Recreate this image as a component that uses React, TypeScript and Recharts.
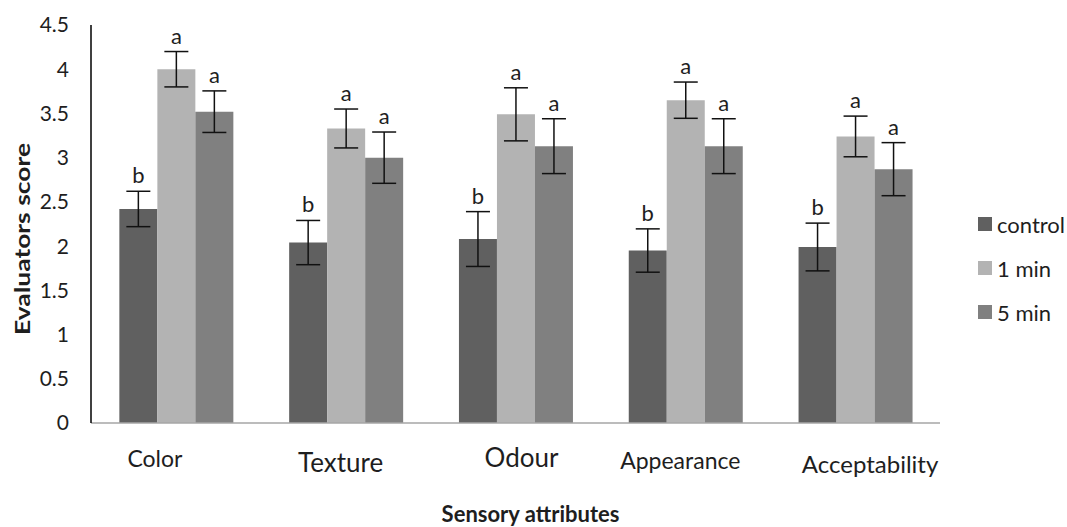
import { BarChart, Bar, XAxis, YAxis, ErrorBar, LabelList, Legend } from 'recharts'

const categories = ['Color', 'Texture', 'Odour', 'Appearance', 'Acceptability']
const seriesNames = ['control', '1 min', '5 min']
const controlScores = [2.42, 2.04, 2.08, 1.95, 1.99]
const oneMinScores = [4.0, 3.33, 3.49, 3.65, 3.24]
const fiveMinScores = [3.52, 3.0, 3.13, 3.13, 2.87]
const controlErr = [0.2, 0.25, 0.31, 0.245, 0.27]
const oneMinErr = [0.2, 0.22, 0.3, 0.205, 0.23]
const fiveMinErr = [0.235, 0.29, 0.31, 0.31, 0.3]
const controlLetters = ['b', 'b', 'b', 'b', 'b']
const oneMinLetters = ['a', 'a', 'a', 'a', 'a']
const fiveMinLetters = ['a', 'a', 'a', 'a', 'a']
const yTicks = [0, 0.5, 1, 1.5, 2, 2.5, 3, 3.5, 4, 4.5]

const chartData = categories.map((name, i) => ({
  name,
  control: controlScores[i],
  controlErr: controlErr[i],
  controlLetter: controlLetters[i],
  oneMin: oneMinScores[i],
  oneMinErr: oneMinErr[i],
  oneMinLetter: oneMinLetters[i],
  fiveMin: fiveMinScores[i],
  fiveMinErr: fiveMinErr[i],
  fiveMinLetter: fiveMinLetters[i],
}))

const FONT = 'Lato, "Open Sans", sans-serif'
const TEXT = '#1e1e1e'

// category labels in the original were nudged by hand, keep that look
const tickLook: Record<string, { dx: number; dy: number; size: number }> = {
  Color: { dx: -21, dy: 36, size: 23 },
  Texture: { dx: -5, dy: 41, size: 26 },
  Odour: { dx: 6, dy: 36, size: 26 },
  Appearance: { dx: -5, dy: 38, size: 23 },
  Acceptability: { dx: 15, dy: 42, size: 24 },
}

const CategoryTick = ({ x, y, payload }: any) => {
  const look = tickLook[payload.value] || { dx: 0, dy: 38, size: 23 }
  return (
    <text x={x + look.dx} y={y + look.dy} textAnchor="middle"
      fontFamily={FONT} fontSize={look.size} fill={TEXT}>
      {payload.value}
    </text>
  )
}

// significance letter sits just above the error bar cap
const letterLabel = (scoreKey: string, errKey: string) => (props: any) => {
  const { x, y, width, height, value, index } = props
  const d: any = chartData[index]
  const pxPerUnit = height / d[scoreKey]
  const top = y - d[errKey] * pxPerUnit
  return (
    <text x={x + width / 2} y={top - 8} textAnchor="middle"
      fontFamily={FONT} fontSize={22} fill={TEXT}>
      {value}
    </text>
  )
}

const LegendBox = ({ payload }: any) => {
  const items = [...(payload || [])].sort(
    (a: any, b: any) => seriesNames.indexOf(a.value) - seriesNames.indexOf(b.value))
  return (
    <div style={{ display: 'flex', flexDirection: 'column', fontFamily: FONT }}>
      {items.map((p: any) => (
        <div key={p.value} style={{ display: 'flex', alignItems: 'center', height: 44 }}>
          <span style={{ width: 14, height: 14, background: p.color, marginRight: 5 }} />
          <span style={{ fontSize: 22, color: TEXT }}>{p.value}</span>
        </div>
      ))}
    </div>
  )
}

export default function App() {
  return (
    <div style={{ width: 1067, height: 527, background: '#fff' }}>
      <style>{'body{margin:0}'}</style>
      <BarChart width={1067} height={527} data={chartData}
        margin={{ top: 25, right: 38, bottom: 44, left: 0 }}
        barCategoryGap="16.7%" barGap={0}>
        <XAxis dataKey="name" height={60} tickLine={false}
          axisLine={{ stroke: '#a6a6a6', strokeWidth: 1.5 }}
          tick={<CategoryTick />} interval={0}
          label={{
            content: ({ viewBox }: any) => (
              <text x={viewBox.x + viewBox.width / 2 + 15} y={522} textAnchor="middle"
                fontFamily={FONT} fontWeight="bold" fontSize={22} fill={TEXT}>
                Sensory attributes
              </text>
            ),
          }} />
        <YAxis width={91} domain={[0, 4.5]} ticks={yTicks} tickLine={false}
          tickMargin={16} axisLine={{ stroke: '#000', strokeWidth: 1.5 }}
          tick={{ fontFamily: FONT, fontSize: 21, fill: TEXT }}
          label={{
            content: ({ viewBox }: any) => {
              const cy = viewBox.y + viewBox.height / 2 + 15
              return (
                <text x={21} y={cy} textAnchor="middle" transform={`rotate(-90, 21, ${cy})`}
                  dominantBaseline="central" textLength={192} lengthAdjust="spacingAndGlyphs"
                  fontFamily={FONT} fontWeight="bold" fontSize={21} fill={TEXT}>
                  Evaluators score
                </text>
              )
            },
          }} />
        <Legend layout="horizontal" verticalAlign="middle" align="right"
          content={<LegendBox />}
          wrapperStyle={{ left: 978, top: 202, right: 'auto', width: 89 }} />
        <Bar dataKey="control" name="control" fill="#606060" isAnimationActive={false}>
          <ErrorBar dataKey="controlErr" width={12} stroke="#111" strokeWidth={1.5} direction="y" />
          <LabelList dataKey="controlLetter" content={letterLabel('control', 'controlErr')} />
        </Bar>
        <Bar dataKey="oneMin" name="1 min" fill="#b3b3b3" isAnimationActive={false}>
          <ErrorBar dataKey="oneMinErr" width={12} stroke="#111" strokeWidth={1.5} direction="y" />
          <LabelList dataKey="oneMinLetter" content={letterLabel('oneMin', 'oneMinErr')} />
        </Bar>
        <Bar dataKey="fiveMin" name="5 min" fill="#808080" isAnimationActive={false}>
          <ErrorBar dataKey="fiveMinErr" width={12} stroke="#111" strokeWidth={1.5} direction="y" />
          <LabelList dataKey="fiveMinLetter" content={letterLabel('fiveMin', 'fiveMinErr')} />
        </Bar>
      </BarChart>
    </div>
  )
}
